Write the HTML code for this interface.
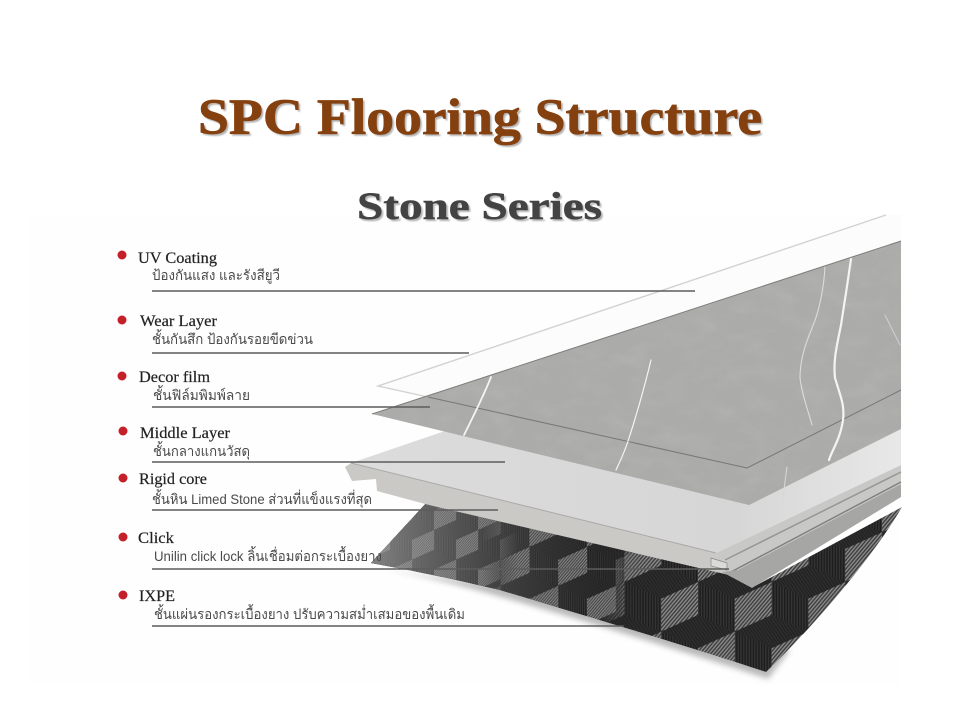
<!DOCTYPE html>
<html lang="en"><head><meta charset="utf-8"><title>SPC Flooring Structure</title>
<style>
html,body{margin:0;padding:0;background:#fff}
svg{display:block}
.h{font-family:"Liberation Serif",serif;font-weight:bold}
.l{font-family:"Liberation Serif",serif;font-size:16px;fill:#222;stroke:#222;stroke-width:.2}
.t{font-family:"Liberation Sans","Noto Sans CJK SC","WenQuanYi Zen Hei",sans-serif;font-size:14px;fill:#4a4a4a}
</style></head><body>
<svg width="960" height="720" viewBox="0 0 960 720" xmlns="http://www.w3.org/2000/svg">
<defs>
<pattern id="hl" width="3" height="3" patternUnits="userSpaceOnUse" patternTransform="rotate(40)"><rect width="3" height="3" fill="#3c3c3c"/><rect width="1.5" height="3" fill="#8c8c8c"/></pattern>
<pattern id="hd" width="3" height="3" patternUnits="userSpaceOnUse"><rect width="3" height="3" fill="#1c1c1c"/><rect width="1.5" height="3" fill="#353535"/></pattern>
<pattern id="hb" width="3" height="3" patternUnits="userSpaceOnUse" patternTransform="rotate(-35)"><rect width="3" height="3" fill="#222"/><rect width="1.5" height="3" fill="#2e2e2e"/></pattern>
<g id="cube"><polygon points="0,-36 -40,-18 -40,18 0,0" fill="url(#hl)"/><polygon points="0,-36 40,-18 40,18 0,0" fill="url(#hd)"/><polygon points="0,0 -40,18 0,36 40,18" fill="url(#hb)"/></g>
<g id="tile"><rect width="80" height="108" fill="#222"/><use href="#cube" x="40" y="36"/><use href="#cube" x="0" y="90"/><use href="#cube" x="80" y="90"/><use href="#cube" x="0" y="-18"/><use href="#cube" x="80" y="-18"/></g>
<pattern id="cR" width="80" height="108" patternUnits="userSpaceOnUse" patternTransform="translate(661.2,582) scale(.92)"><use href="#tile"/></pattern>
<pattern id="cM" width="80" height="108" patternUnits="userSpaceOnUse" patternTransform="translate(558.2,547) scale(.72)"><use href="#tile"/></pattern>
<pattern id="cL" width="80" height="108" patternUnits="userSpaceOnUse" patternTransform="translate(456,530) scale(.55)"><use href="#tile"/></pattern>
<path id="ixpe" d="M371,563 L429,500 L720,558 L755,586 L902,507 C880,545 830,610 766,672 C700,650 600,620 500,590 C450,578 410,570 371,563 Z"/>
<linearGradient id="gM" x1="600" y1="0" x2="640" y2="0" gradientUnits="userSpaceOnUse"><stop offset="0" stop-color="#fff"/><stop offset="1" stop-color="#000"/></linearGradient>
<linearGradient id="gL" x1="482" y1="0" x2="518" y2="0" gradientUnits="userSpaceOnUse"><stop offset="0" stop-color="#fff"/><stop offset="1" stop-color="#000"/></linearGradient>
<mask id="mM" maskUnits="userSpaceOnUse" x="360" y="490" width="560" height="200"><rect x="360" y="490" width="560" height="200" fill="url(#gM)"/></mask>
<mask id="mL" maskUnits="userSpaceOnUse" x="360" y="490" width="560" height="200"><rect x="360" y="490" width="560" height="200" fill="url(#gL)"/></mask>
<linearGradient id="fade" x1="371" y1="0" x2="600" y2="0" gradientUnits="userSpaceOnUse"><stop offset="0" stop-color="#a8a8a8" stop-opacity=".7"/><stop offset=".5" stop-color="#888" stop-opacity=".32"/><stop offset="1" stop-color="#555" stop-opacity="0"/></linearGradient>
<linearGradient id="top" x1="350" y1="0" x2="901" y2="0" gradientUnits="userSpaceOnUse"><stop offset="0" stop-color="#dcdcdc"/><stop offset=".7" stop-color="#d6d6d6"/><stop offset="1" stop-color="#e8e8e8"/></linearGradient>
<filter id="b" x="-10%" y="-20%" width="120%" height="140%"><feGaussianBlur stdDeviation="3"/></filter>
<filter id="s" x="-2%" y="-10%" width="104%" height="130%"><feGaussianBlur stdDeviation=".9"/></filter>
<filter id="m" x="0" y="0" width="100%" height="100%"><feTurbulence type="fractalNoise" baseFrequency=".035 .06" numOctaves="4" seed="5"/><feColorMatrix values="0 0 0 0 .48 0 0 0 0 .48 0 0 0 0 .48 .9 0 0 0 -.38"/><feComposite in2="SourceGraphic" operator="in"/><feMerge><feMergeNode in="SourceGraphic"/><feMergeNode/></feMerge></filter>
</defs>
<rect width="960" height="720" fill="#fff"/>
<rect x="30" y="215" width="871" height="470" fill="#fefefe"/>

<text class="h" x="200" y="136" font-size="51" fill="#000" opacity=".3" filter="url(#s)" textLength="564" lengthAdjust="spacingAndGlyphs">SPC Flooring Structure</text>
<text class="h" x="198" y="134" font-size="51" fill="#85400f" stroke="#85400f" stroke-width=".7" textLength="564" lengthAdjust="spacingAndGlyphs">SPC Flooring Structure</text>
<text class="h" x="359" y="221" font-size="39" fill="#000" opacity=".3" filter="url(#s)" textLength="245" lengthAdjust="spacingAndGlyphs">Stone Series</text>
<text class="h" x="357" y="219" font-size="39" fill="#434343" stroke="#434343" stroke-width=".5" textLength="245" lengthAdjust="spacingAndGlyphs">Stone Series</text>

<path d="M380,569 C440,578 500,596 600,626 C660,645 720,663 768,679 L790,650 L600,600 Z" fill="#8a8a8a" opacity=".6" filter="url(#b)"/>
<use href="#ixpe" fill="url(#cR)"/>
<g mask="url(#mM)"><use href="#ixpe" fill="url(#cM)"/></g>
<g mask="url(#mL)"><use href="#ixpe" fill="url(#cL)"/></g>
<path d="M371,563 L429,500 L610,536 L600,618 C560,608 530,599 500,590 C450,578 410,570 371,563 Z" fill="url(#fade)"/>

<polygon points="351,463 445,431 901,420 901,465 716,553" fill="url(#top)"/>
<polygon points="345,467 351,463 716,553 729,575 429,505 377,491 376,479 352,481" fill="#cbc9c5"/>
<line x1="351" y1="463" x2="716" y2="553" stroke="#a9a9a7" stroke-width="1"/>
<polygon points="716,553 901,465 901,484 729,575" fill="#c8c8c6"/>
<polyline points="725,560 901,472" fill="none" stroke="#969694" stroke-width="1.5"/>
<polyline points="729,573 901,482" fill="none" stroke="#80807e" stroke-width="1.5"/>
<polygon points="722,572 738,570 901,484 901,497 752,588" fill="#a6a6a4"/>
<polygon points="711,558 727,563 727,570 711,566" fill="#dadad8" stroke="#888" stroke-width=".7"/>

<polygon points="378,386 886,215 901,215 901,243 428,397" fill="#fcfcfc"/>
<polyline points="428,397 378,386 886,215" fill="none" stroke="#d2d2d2" stroke-width="1.4"/>
<polygon points="372,414 901,241 901,429 749,505" fill="#ababa9" filter="url(#m)"/>
<polyline points="372,414 901,241" fill="none" stroke="#7d7d7b" stroke-width="1"/>
<polyline points="428,397 747,468 901,390" fill="none" stroke="#777" stroke-width="1"/>
<g fill="none" stroke="#f4f4f4" stroke-linecap="round">
<path d="M851,259 C848,280 845,300 841,325 C837,345 833,360 835,378 C840,395 845,405 843,420 C840,440 832,450 829,460" stroke-width="2.2"/>
<path d="M825,267 C824,285 820,310 812,328 C805,345 800,360 800,378 C802,395 808,410 812,425" stroke-width="1.1" stroke="#dcdcdc"/>
<path d="M491,377 C484,395 474,415 464,435" stroke-width="1.8"/>
<path d="M651,360 C645,385 638,410 630,435 C624,455 618,465 616,470" stroke-width="1.2"/>
<path d="M787,467 C785,480 784,490 783,499" stroke-width="1" stroke="#d8d8d8"/>
<path d="M885,315 C890,325 895,335 900,345" stroke-width="1" stroke="#d0d0d0"/>
</g>

<g fill="#c4202a">
<circle cx="122" cy="255" r="4.5"/><circle cx="122" cy="320" r="4.5"/><circle cx="122" cy="376" r="4.5"/><circle cx="123" cy="431" r="4.5"/><circle cx="123" cy="478" r="4.5"/><circle cx="123" cy="537" r="4.5"/><circle cx="123" cy="595" r="4.5"/>
</g>
<g stroke="#5c5c5c" stroke-width="1.4">
<line x1="152" y1="291" x2="695" y2="291"/><line x1="152" y1="353" x2="469" y2="353"/><line x1="152" y1="407" x2="430" y2="407"/><line x1="152" y1="462" x2="505" y2="462"/><line x1="152" y1="510" x2="498" y2="510"/><line x1="152" y1="569" x2="729" y2="569"/><line x1="152" y1="626" x2="624" y2="626"/>
</g>
<text class="l" x="138" y="263" textLength="79" lengthAdjust="spacingAndGlyphs">UV Coating</text>
<text class="l" x="140" y="326" textLength="77" lengthAdjust="spacingAndGlyphs">Wear Layer</text>
<text class="l" x="139" y="382" textLength="71" lengthAdjust="spacingAndGlyphs">Decor film</text>
<text class="l" x="140" y="438" textLength="90" lengthAdjust="spacingAndGlyphs">Middle Layer</text>
<text class="l" x="139" y="484" textLength="68" lengthAdjust="spacingAndGlyphs">Rigid core</text>
<text class="l" x="138" y="543" textLength="36" lengthAdjust="spacingAndGlyphs">Click</text>
<text class="l" x="139" y="601" textLength="36" lengthAdjust="spacingAndGlyphs">IXPE</text>
<text class="t" x="152" y="280" textLength="128" lengthAdjust="spacingAndGlyphs">ป้องกันแสง และรังสียูวี</text>
<text class="t" x="152" y="344" textLength="161" lengthAdjust="spacingAndGlyphs">ชั้นกันสึก ป้องกันรอยขีดข่วน</text>
<text class="t" x="153" y="400" textLength="97" lengthAdjust="spacingAndGlyphs">ชั้นฟิล์มพิมพ์ลาย</text>
<text class="t" x="153" y="456" textLength="97" lengthAdjust="spacingAndGlyphs">ชั้นกลางแกนวัสดุ</text>
<text class="t" x="152" y="504" textLength="220" lengthAdjust="spacingAndGlyphs">ชั้นหิน Limed Stone ส่วนที่แข็งแรงที่สุด</text>
<text class="t" x="154" y="561" textLength="228" lengthAdjust="spacingAndGlyphs">Unilin click lock ลิ้นเชื่อมต่อกระเบื้องยาง</text>
<text class="t" x="154" y="619" textLength="311" lengthAdjust="spacingAndGlyphs">ชั้นแผ่นรองกระเบื้องยาง ปรับความสม่ำเสมอของพื้นเดิม</text>
</svg>
</body></html>
